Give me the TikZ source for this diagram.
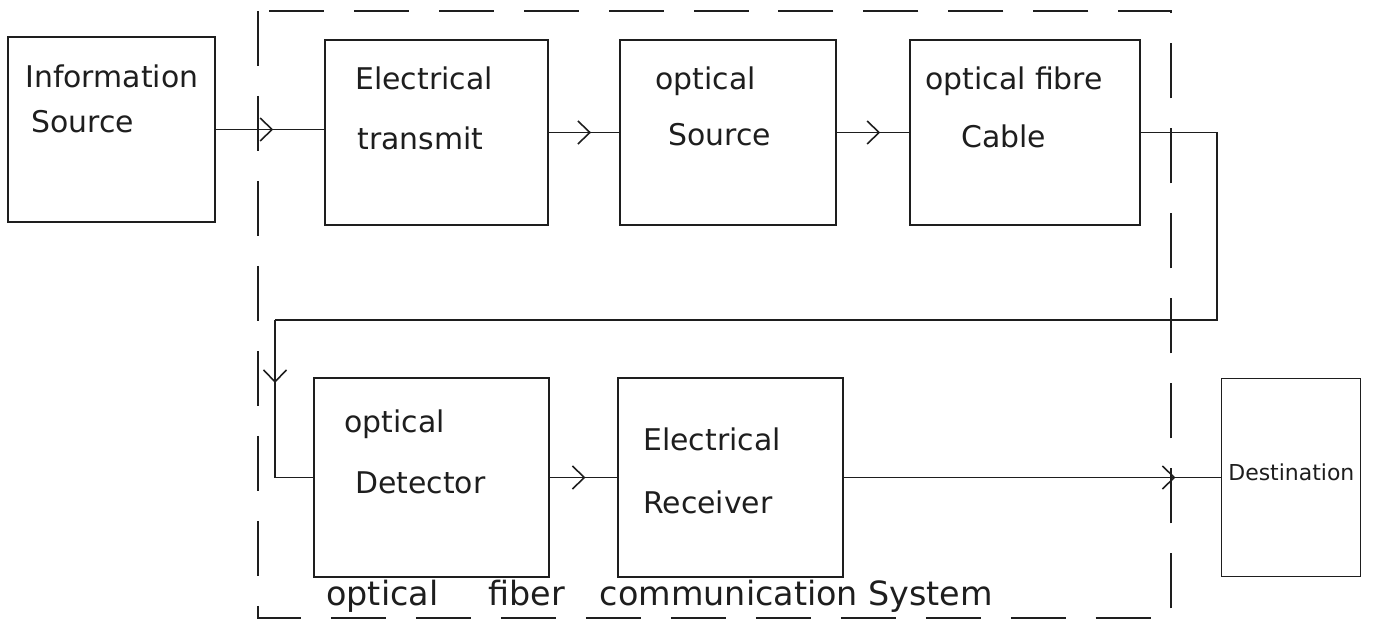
\documentclass[tikz,border=0pt]{standalone}
\usepackage{fontspec}
\setmainfont{DejaVu Sans}
\usetikzlibrary{arrows.meta,decorations.markings}
\definecolor{ink}{HTML}{1E1E1E}
\tikzset{
  x=0.02cm, y=-0.02cm,
  box/.style={draw=ink, line width=0.9pt, inner sep=0pt},
  conn/.style={draw=ink, line width=0.9pt},
  lbl/.style={text=ink, inner sep=0pt, anchor=base west, font=\fontsize{17}{20}\selectfont},
  frame/.style={draw=ink, line width=0.9pt, dash pattern=on 1.1cm off 0.6cm},
  midarrow/.style={postaction={decorate}, decoration={markings,
     mark=at position #1 with {\arrow{Straight Barb[length=2.4mm,width=4.6mm,line width=0.9pt]}}}}
}
\begin{document}
\begin{tikzpicture}
\useasboundingbox (0,0) rectangle (1375,628);
\fill[white] (0,0) rectangle (1375,628);

% dashed system frame
\draw[frame] (258,11) rectangle (1171,618);

% boxes
\node[box, minimum width=4.14cm, minimum height=3.7cm] (info) at (111.5,129.5) {};
\node[box, minimum width=4.46cm, minimum height=3.7cm] (etx) at (436.5,132.5) {};
\node[box, minimum width=4.32cm, minimum height=3.7cm] (osrc) at (728,132.5) {};
\node[box, minimum width=4.6cm, minimum height=3.7cm] (fib) at (1025,132.5) {};
\node[box, minimum width=4.7cm, minimum height=3.98cm] (det) at (431.5,477.5) {};
\node[box, minimum width=4.5cm, minimum height=3.98cm] (rcv) at (730.5,477.5) {};
\node[box, minimum width=2.78cm, minimum height=3.96cm] (dst) at (1291,477.5) {};

% labels
\node[lbl] (infoA) at (25,88) {Information};
\node[lbl] (infoB) at (31,133) {Source};
\node[lbl] (etxA) at (355,90) {Electrical};
\node[lbl] (etxB) at (357,150) {transmit};
\node[lbl] (osrcA) at (655,90) {optical};
\node[lbl] (osrcB) at (668,146) {Source};
\node[lbl] (fibA) at (925,90) {optical fibre};
\node[lbl] (fibB) at (961,148) {Cable};
\node[lbl] (detA) at (344,432) {optical};
\node[lbl] (detB) at (355,493) {Detector};
\node[lbl] (rcvA) at (643,450) {Electrical};
\node[lbl] (rcvB) at (643,513) {Receiver};
\node[lbl, font=\fontsize{12.5}{15}\selectfont] (dstA) at (1228,480) {Destination};
\node[lbl, font=\fontsize{19}{22}\selectfont] (sys) at (326,605) {optical\hspace{1.0cm}fiber\hspace{0.7cm}communication\hspace{0.2cm}System};

% connectors
\draw[conn, midarrow=0.53] (info.east) -- (info.east -| etx.west);
\draw[conn, midarrow=0.6] (etx.east) -- (osrc.west);
\draw[conn, midarrow=0.6] (osrc.east) -- (fib.west);
\coordinate (c1) at (1217,320);
\coordinate (c2) at (275,320);
\coordinate (c3) at (275,477.5);
\draw[conn] (fib.east) -| (c1) -- (c2);
\draw[conn, midarrow=0.4] (c2) -- (c3);
\draw[conn] (c3) -- (det.west);
\draw[conn, midarrow=0.53] (det.east) -- (rcv.west);
\draw[conn, midarrow=0.88] (rcv.east) -- (dst.west);
\end{tikzpicture}
\end{document}
